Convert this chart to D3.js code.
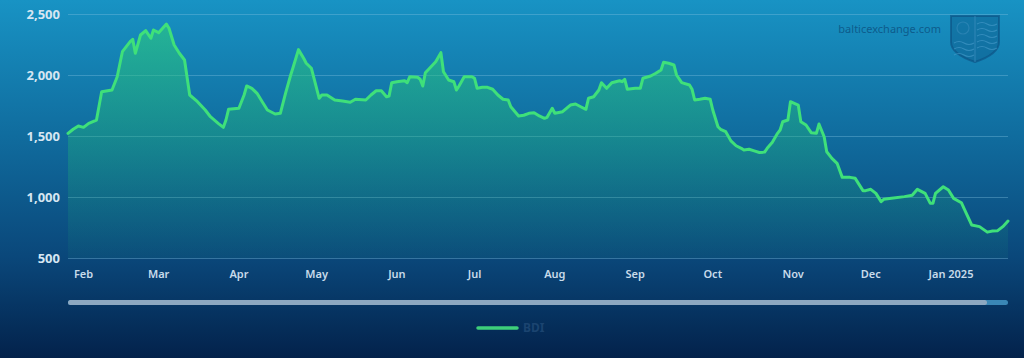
<!DOCTYPE html>
<html><head><meta charset="utf-8">
<script src="https://cdn.jsdelivr.net/npm/d3@7"></script>
<style>html,body{margin:0;padding:0;overflow:hidden;background:#03234d}</style>
</head><body><svg id="c" width="1024" height="358"></svg>
<script>
const dates = [
"2024-01-26","2024-01-28","2024-01-30","2024-02-01","2024-02-03","2024-02-06","2024-02-08","2024-02-12","2024-02-14","2024-02-16",
"2024-02-19","2024-02-20","2024-02-21","2024-02-23","2024-02-25","2024-02-27","2024-02-28","2024-03-01","2024-03-04","2024-03-05",
"2024-03-07","2024-03-09","2024-03-11","2024-03-13","2024-03-16","2024-03-19","2024-03-21","2024-03-24","2024-03-26","2024-03-27",
"2024-03-28","2024-04-01","2024-04-03","2024-04-04","2024-04-06","2024-04-08","2024-04-10","2024-04-12","2024-04-15","2024-04-17",
"2024-04-19","2024-04-21","2024-04-22","2024-04-24","2024-04-26","2024-04-27","2024-04-29","2024-05-02","2024-05-03","2024-05-05",
"2024-05-08","2024-05-11","2024-05-14","2024-05-16","2024-05-20","2024-05-22","2024-05-24","2024-05-26","2024-05-28","2024-05-29",
"2024-05-30","2024-06-01","2024-06-04","2024-06-05","2024-06-06","2024-06-09","2024-06-10","2024-06-11","2024-06-12","2024-06-16",
"2024-06-18","2024-06-19","2024-06-21","2024-06-23","2024-06-24","2024-06-25","2024-06-27","2024-06-30","2024-07-01","2024-07-02",
"2024-07-04","2024-07-06","2024-07-08","2024-07-10","2024-07-12","2024-07-14","2024-07-15","2024-07-18","2024-07-20","2024-07-22",
"2024-07-24","2024-07-26","2024-07-28","2024-07-29","2024-07-31","2024-08-01","2024-08-04","2024-08-07","2024-08-09","2024-08-11",
"2024-08-13","2024-08-14","2024-08-16","2024-08-18","2024-08-19","2024-08-21","2024-08-23","2024-08-26","2024-08-27","2024-08-28",
"2024-08-29","2024-09-01","2024-09-03","2024-09-04","2024-09-07","2024-09-09","2024-09-11","2024-09-12","2024-09-14","2024-09-16",
"2024-09-17","2024-09-19","2024-09-22","2024-09-23","2024-09-24","2024-09-26","2024-09-28","2024-09-30","2024-10-01","2024-10-03",
"2024-10-04","2024-10-06","2024-10-08","2024-10-10","2024-10-12","2024-10-13","2024-10-15","2024-10-17","2024-10-19","2024-10-21",
"2024-10-22","2024-10-24","2024-10-26","2024-10-27","2024-10-28","2024-10-30","2024-10-31","2024-11-03","2024-11-04","2024-11-06",
"2024-11-08","2024-11-10","2024-11-11","2024-11-13","2024-11-14","2024-11-16","2024-11-18","2024-11-20","2024-11-23","2024-11-25",
"2024-11-28","2024-11-29","2024-12-01","2024-12-03","2024-12-05","2024-12-06","2024-12-09","2024-12-14","2024-12-17","2024-12-19",
"2024-12-22","2024-12-23","2024-12-24","2024-12-25","2024-12-26","2024-12-29","2024-12-31","2025-01-02","2025-01-05","2025-01-06",
"2025-01-09","2025-01-12","2025-01-15","2025-01-17","2025-01-19","2025-01-21","2025-01-23"];
const bdi = [
1522,1555,1582,1571,1604,1631,1863,1877,1986,2191,
2273,2293,2178,2328,2364,2301,2369,2347,2418,2383,
2246,2178,2123,1836,1781,1713,1658,1604,1571,1631,
1719,1727,1836,1910,1891,1850,1781,1713,1680,1686,
1850,2000,2068,2208,2137,2096,2055,1809,1836,1836,
1795,1787,1776,1801,1795,1836,1871,1871,1822,1828,
1937,1945,1953,1937,1986,1981,1965,1910,2019,2109,
2183,2027,1959,1945,1877,1910,1986,1986,1973,1891,
1899,1899,1883,1836,1801,1795,1740,1664,1670,1686,
1691,1664,1645,1653,1727,1686,1699,1754,1762,1740,
1719,1809,1822,1877,1937,1891,1937,1953,1945,1965,
1883,1891,1891,1973,1992,2014,2041,2104,2096,2082,
2000,1937,1918,1883,1795,1801,1809,1801,1713,1576,
1555,1535,1460,1420,1399,1385,1391,1378,1365,1368,
1399,1448,1522,1549,1617,1631,1781,1754,1617,1590,
1527,1522,1598,1494,1371,1317,1276,1161,1161,1153,
1052,1052,1063,1030,962,981,989,1003,1014,1063,
1030,989,948,948,1030,1084,1057,989,953,907,
770,757,712,721,724,757,803];
const yTickValues = [500, 1000, 1500, 2000, 2500];
const monthTicks = ["2024-02-01","2024-03-01","2024-04-01","2024-05-01","2024-06-01","2024-07-01","2024-08-01","2024-09-01","2024-10-01","2024-11-01","2024-12-01","2025-01-01"];
const monthLabels = ["Feb","Mar","Apr","May","Jun","Jul","Aug","Sep","Oct","Nov","Dec","Jan 2025"];
const seriesName = "BDI";
const watermarkText = "balticexchange.com";

const W = 1024, H = 358;
const pLeft = 68, pRight = 1008, pTop = 14, pBottom = 258;
const parse = d3.timeParse("%Y-%m-%d");
const data = dates.map((d, i) => ({date: parse(d), v: bdi[i]}));

const svg = d3.select("#c");
const defs = svg.append("defs");
const bg = defs.append("linearGradient").attr("id","bg").attr("x1",0).attr("y1",0).attr("x2",0).attr("y2",1);
bg.append("stop").attr("offset","0").attr("stop-color","#1893c4");
bg.append("stop").attr("offset","0.38").attr("stop-color","#106c9e");
bg.append("stop").attr("offset","0.72").attr("stop-color","#0a477a");
bg.append("stop").attr("offset","1").attr("stop-color","#03224b");
const fg = defs.append("linearGradient").attr("id","fill").attr("gradientUnits","userSpaceOnUse")
  .attr("x1",0).attr("y1",pTop).attr("x2",0).attr("y2",pBottom);
fg.append("stop").attr("offset","0").attr("stop-color","#30d37a").attr("stop-opacity",0.6);
fg.append("stop").attr("offset","0.5").attr("stop-color","#22b879").attr("stop-opacity",0.38);
fg.append("stop").attr("offset","1").attr("stop-color","#1a9a78").attr("stop-opacity",0.08);

svg.append("rect").attr("width",W).attr("height",H).attr("fill","url(#bg)");

const x = d3.scaleTime().domain(d3.extent(data, d => d.date)).range([pLeft, pRight]);
const y = d3.scaleLinear().domain([500, 2500]).range([pBottom, pTop]);

// watermark
svg.append("text").attr("x",941).attr("y",33).attr("text-anchor","end")
  .attr("font-family","Noto Sans, sans-serif").attr("font-size",11)
  .attr("fill","#0b4f7e").attr("fill-opacity",0.8).text(watermarkText);
const logo = svg.append("g").attr("transform","translate(950,15)");
logo.append("path").attr("d","M1,1 H49 V27 Q49,39 25,47 Q1,39 1,27 Z")
  .attr("fill","#0d5a8c").attr("fill-opacity",0.45).attr("stroke","#0b4f80").attr("stroke-width",2).attr("stroke-opacity",0.6);
logo.append("path").attr("d","M25,1 V47").attr("stroke","#3d90bf").attr("stroke-opacity",0.6).attr("stroke-width",1.2);
[9,15,21,27,33].forEach(o => {
  logo.append("path").attr("d",`M27,${o} q5,-3 10,0 t10,0`).attr("fill","none").attr("stroke","#4a9ccb").attr("stroke-opacity",0.6).attr("stroke-width",1.2);
});
[28,34,40].forEach(o => {
  logo.append("path").attr("d",`M4,${o} q5,-3 10,0 t10,0`).attr("fill","none").attr("stroke","#4a9ccb").attr("stroke-opacity",0.6).attr("stroke-width",1.2);
});
logo.append("circle").attr("cx",13).attr("cy",13).attr("r",6).attr("fill","none").attr("stroke","#3d90bf").attr("stroke-opacity",0.5).attr("stroke-width",1.2);

// gridlines
svg.append("g").selectAll("line").data(yTickValues).join("line")
  .attr("x1",pLeft).attr("x2",pRight)
  .attr("y1",d => y(d) + 0.5).attr("y2",d => y(d) + 0.5)
  .attr("stroke","#7fc0e0").attr("stroke-opacity",0.38).attr("stroke-width",1);

// y labels
svg.append("g").selectAll("text").data(yTickValues).join("text")
  .attr("x",pLeft - 8).attr("y",d => y(d)).attr("dy","0.36em")
  .attr("text-anchor","end").attr("font-family","Noto Sans, sans-serif")
  .attr("font-size",13).attr("font-weight",700).attr("fill","#d6e6f2")
  .text(d => d3.format(",")(d));

// x labels
svg.append("g").selectAll("text").data(monthTicks).join("text")
  .attr("x",d => x(parse(d))).attr("y",278)
  .attr("text-anchor","middle").attr("font-family","Noto Sans, sans-serif")
  .attr("font-size",11).attr("font-weight",600).attr("fill","#c8dbea")
  .text((d,i) => monthLabels[i]);

// area + line
const area = d3.area().x(d => x(d.date)).y0(pBottom).y1(d => y(d.v));
const line = d3.line().x(d => x(d.date)).y(d => y(d.v));
svg.append("path").datum(data).attr("d",area).attr("fill","url(#fill)");
svg.append("path").datum(data).attr("d",line).attr("fill","none")
  .attr("stroke","#3fe07a").attr("stroke-width",3).attr("stroke-linejoin","round").attr("stroke-linecap","round");

// scrollbar
svg.append("rect").attr("x",pLeft).attr("y",300).attr("width",pRight - pLeft).attr("height",5).attr("rx",2.5)
  .attr("fill","#3a87b6");
svg.append("rect").attr("x",pLeft).attr("y",300).attr("width",987 - pLeft).attr("height",5).attr("rx",2.5)
  .attr("fill","#8da8c1");

// legend
svg.append("line").attr("x1",478).attr("x2",517).attr("y1",328).attr("y2",328)
  .attr("stroke","#3ecf7a").attr("stroke-width",3.5).attr("stroke-linecap","round");
svg.append("text").attr("x",523).attr("y",332).attr("font-family","Noto Sans, sans-serif")
  .attr("font-size",12).attr("font-weight",700).attr("fill","#1b4470").text(seriesName);
</script>
</body></html>
